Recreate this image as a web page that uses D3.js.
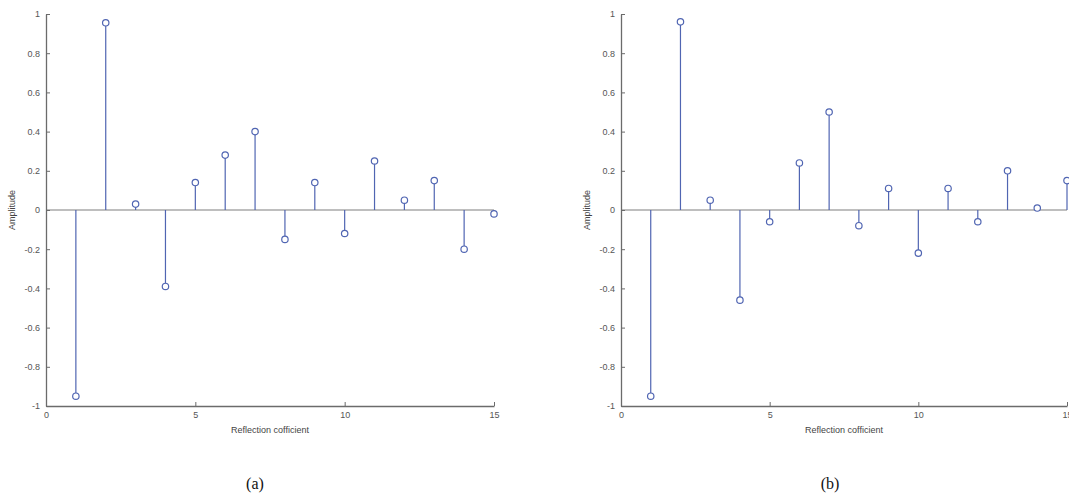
<!DOCTYPE html>
<html><head><meta charset="utf-8">
<script src="https://cdn.jsdelivr.net/npm/d3@7/dist/d3.min.js"></script>
<style>body{margin:0;background:#fff;} svg{display:block;}</style>
</head><body>
<svg id="c" width="1069" height="496"></svg>
<script>
const coefficients = [1,2,3,4,5,6,7,8,9,10,11,12,13,14,15];
const seriesA = [-0.95,0.955,0.03,-0.39,0.14,0.28,0.40,-0.15,0.14,-0.12,0.25,0.05,0.15,-0.20,-0.02];
const seriesB = [-0.95,0.96,0.05,-0.46,-0.06,0.24,0.50,-0.08,0.11,-0.22,0.11,-0.06,0.20,0.01,0.15];
const xTicks = [0,5,10,15];
const yTicks = [-1,-0.8,-0.6,-0.4,-0.2,0,0.2,0.4,0.6,0.8,1];
const captions = ["(a)","(b)"];

const svg = d3.select("#c");
const panels = [
  {data: seriesA, x0: 46, x1: 494, cap: captions[0], capX: 255},
  {data: seriesB, x0: 621, x1: 1067, cap: captions[1], capX: 830}
];
const yTop = 14, yBot = 406;
const axisCol = "#6b6b6b", textCol = "#555", stemCol = "#5065b2";

panels.forEach(p => {
  const g = svg.append("g");
  const x = d3.scaleLinear().domain([0,15]).range([p.x0, p.x1]);
  const y = d3.scaleLinear().domain([-1,1]).range([yBot, yTop]);

  g.append("line").attr("x1", x(0)).attr("x2", x(15)).attr("y1", y(0)).attr("y2", y(0))
    .attr("stroke", "#a8a8a8").attr("stroke-width", 1.5);

  const yAxis = d3.axisLeft(y).tickValues(yTicks).tickSizeInner(-4).tickSizeOuter(0).tickPadding(6)
    .tickFormat(d => String(+d.toFixed(1)));
  const ya = g.append("g").attr("transform", `translate(${x(0)},0)`).call(yAxis);
  const xAxis = d3.axisBottom(x).tickValues(xTicks).tickSizeInner(-4).tickSizeOuter(0).tickPadding(6);
  const xa = g.append("g").attr("transform", `translate(0,${yBot})`).call(xAxis);
  [ya, xa].forEach(a => {
    a.select(".domain").attr("stroke", axisCol).attr("stroke-width", 1.3);
    a.selectAll(".tick line").attr("stroke", axisCol);
    a.selectAll(".tick text").attr("fill", textCol).attr("font-family", "Liberation Sans, Arial, sans-serif").attr("font-size", 9);
  });

  g.selectAll(".stem").data(p.data).enter().append("line")
    .attr("x1", (d,i) => x(coefficients[i])).attr("x2", (d,i) => x(coefficients[i]))
    .attr("y1", y(0)).attr("y2", d => y(d))
    .attr("stroke", stemCol).attr("stroke-width", 1.2);
  g.selectAll(".mk").data(p.data).enter().append("circle")
    .attr("cx", (d,i) => x(coefficients[i])).attr("cy", d => y(d)).attr("r", 3.2)
    .attr("fill", "#fff").attr("stroke", stemCol).attr("stroke-width", 1.2);

  g.append("text").attr("x", (x(0)+x(15))/2).attr("y", 433).attr("text-anchor", "middle")
    .attr("font-family", "Liberation Sans, Arial, sans-serif").attr("font-size", 9).attr("fill", "#444")
    .text("Reflection cofficient");
  g.append("text").attr("transform", `translate(${x(0)-31},${y(0)}) rotate(-90)`).attr("text-anchor", "middle")
    .attr("font-family", "Liberation Sans, Arial, sans-serif").attr("font-size", 9).attr("fill", "#444")
    .text("Amplitude");
  g.append("text").attr("x", p.capX).attr("y", 489).attr("text-anchor", "middle")
    .attr("font-family", "Liberation Serif, Times New Roman, serif").attr("font-size", 16).attr("fill", "#111")
    .text(p.cap);
});
</script>
</body></html>
